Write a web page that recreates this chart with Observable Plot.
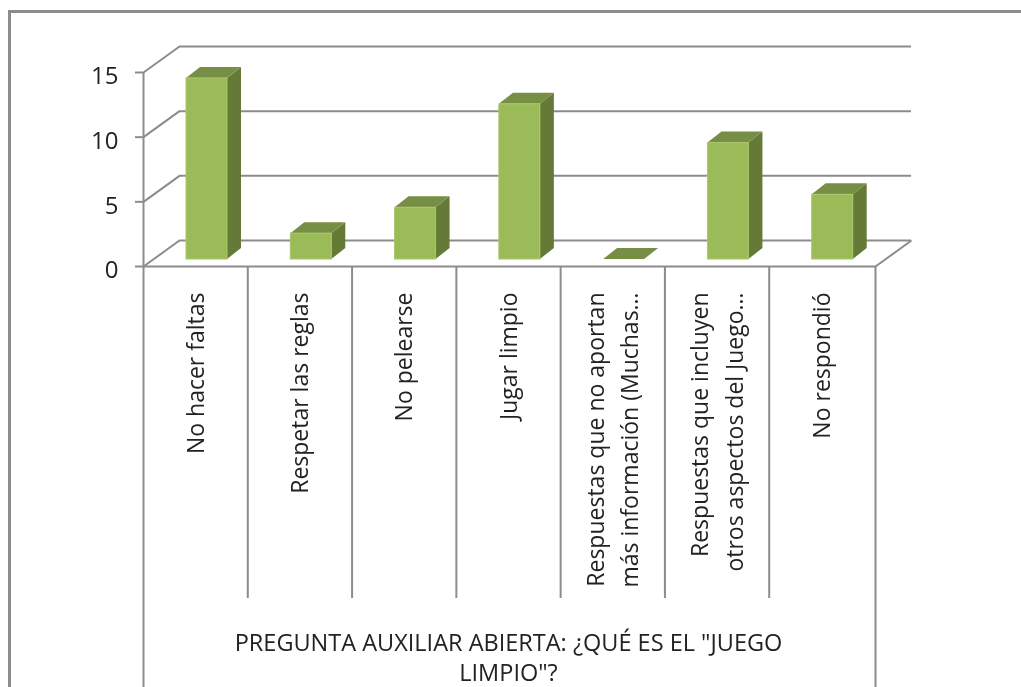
<!DOCTYPE html>
<html><head><meta charset="utf-8">
<script src="https://cdn.jsdelivr.net/npm/d3@7"></script>
<script src="https://cdn.jsdelivr.net/npm/@observablehq/plot@0.6"></script>
<style>
html,body{margin:0;padding:0;background:#fff;overflow:hidden}
#chart{position:relative;width:1021px;height:687px;overflow:hidden;filter:blur(0.4px)}
#chart svg{display:block;position:absolute;left:0;top:0;background:transparent}
#border{position:absolute;left:8px;top:10px;width:1030px;height:700px;border:3px solid #8c8c8c;box-sizing:border-box}
</style></head><body>
<div id="chart"><div id="border"></div></div>
<script>
const categories = ["No hacer faltas","Respetar las reglas","No pelearse","Jugar limpio",
  "Respuestas que no aportan\nmás información (Muchas…","Respuestas que incluyen\notros aspectos del Juego…","No respondió"];
const values = [14,2,4,12,0,9,5];
const yTicks = [0,5,10,15];
const axisTitle = 'PREGUNTA AUXILIAR ABIERTA: ¿QUÉ ES EL "JUEGO\nLIMPIO"?';

const unitX = 730/7, unitY = 194/15;        // px per scale unit
const wallDx = 36/unitX, wallDy = 26/unitY; // wall depth
const barDx = 14/unitX, barDy = 11/unitY;   // bar depth
const barX0 = 43/unitX, barW = 41/unitX, barBase = 7/unitY;
const n = categories.length;
const xEnd = n + 2/unitX;
const bars = values.map((v,i)=>({i,v,x1:i+barX0,x2:i+barX0+barW,y1:barBase,y2:barBase+v}));
const grid = "#8c8c8c";
const front = "#9bbb59", side = "#657a37", topc = "#778f45";

const sideArea = bars.flatMap(b=>[
  {i:b.i,x:b.x2,y1:b.y1,y2:b.y2},
  {i:b.i,x:b.x2+barDx,y1:b.y1+barDy,y2:b.y2+barDy}]);
const topArea = bars.flatMap(b=>[
  {i:b.i,y:b.y2,x1:b.x1,x2:b.x2},
  {i:b.i,y:b.y2+barDy,x1:b.x1+barDx,x2:b.x2+barDx}]);

const plot = Plot.plot({
  width:1021,height:687,
  marginLeft:143,marginRight:146,marginTop:72,marginBottom:421,
  style:{background:"transparent",fontFamily:"'Open Sans',sans-serif",overflow:"visible"},
  x:{domain:[0,xEnd],axis:null},
  y:{domain:[0,15],axis:null},
  marks:[
    Plot.link(yTicks,{x1:0,x2:wallDx,y1:d=>d,y2:d=>d+wallDy,stroke:grid,strokeWidth:2}),
    Plot.ruleY(yTicks,{x1:wallDx,x2:xEnd+wallDx,y:d=>d+wallDy,stroke:grid,strokeWidth:2}),
    Plot.link([0],{x1:xEnd,x2:xEnd+wallDx,y1:0,y2:wallDy,stroke:grid,strokeWidth:2}),
    Plot.ruleY([0],{x1:0,x2:xEnd,stroke:grid,strokeWidth:2}),
    Plot.ruleX([0],{y1:0,y2:15,stroke:grid,strokeWidth:2}),
    Plot.ruleX(d3.range(1,n),{y1:0,y2:-332/unitY,stroke:grid,strokeWidth:2}),
    Plot.ruleX([0,xEnd],{y1:0,y2:-430/unitY,stroke:grid,strokeWidth:2}),
    Plot.areaY(sideArea,{x:"x",y1:"y1",y2:"y2",z:"i",fill:side}),
    Plot.areaX(topArea,{y:"y",x1:"x1",x2:"x2",z:"i",fill:topc}),
    Plot.rect(bars.filter(b=>b.v>0),{x1:"x1",x2:"x2",y1:"y1",y2:"y2",fill:front,stroke:"#a9c86a",strokeWidth:1}),
    Plot.axisY(yTicks,{anchor:"left",stroke:grid,strokeWidth:2,fill:"none",tickSize:8,label:null,tickFormat:d=>d}),
    Plot.axisY(yTicks,{anchor:"left",stroke:"none",fill:"#222",tickSize:8,tickPadding:17,fontSize:24,dy:4,label:null,tickFormat:d=>d}),
    Plot.text(categories,{x:(d,i)=>i+0.5-3/unitX,y:-26/unitY,text:d=>d,rotate:-90,textAnchor:"end",lineAnchor:"middle",
      fontSize:23,lineHeight:1.52,fill:"#222"}),
    Plot.text([axisTitle],{x:3.5,y:-390/unitY,text:d=>d,lineHeight:1.27,fontSize:23.5,fill:"#222",lineAnchor:"middle"})
  ]
});
document.getElementById("chart").appendChild(plot);
</script>
</body></html>
